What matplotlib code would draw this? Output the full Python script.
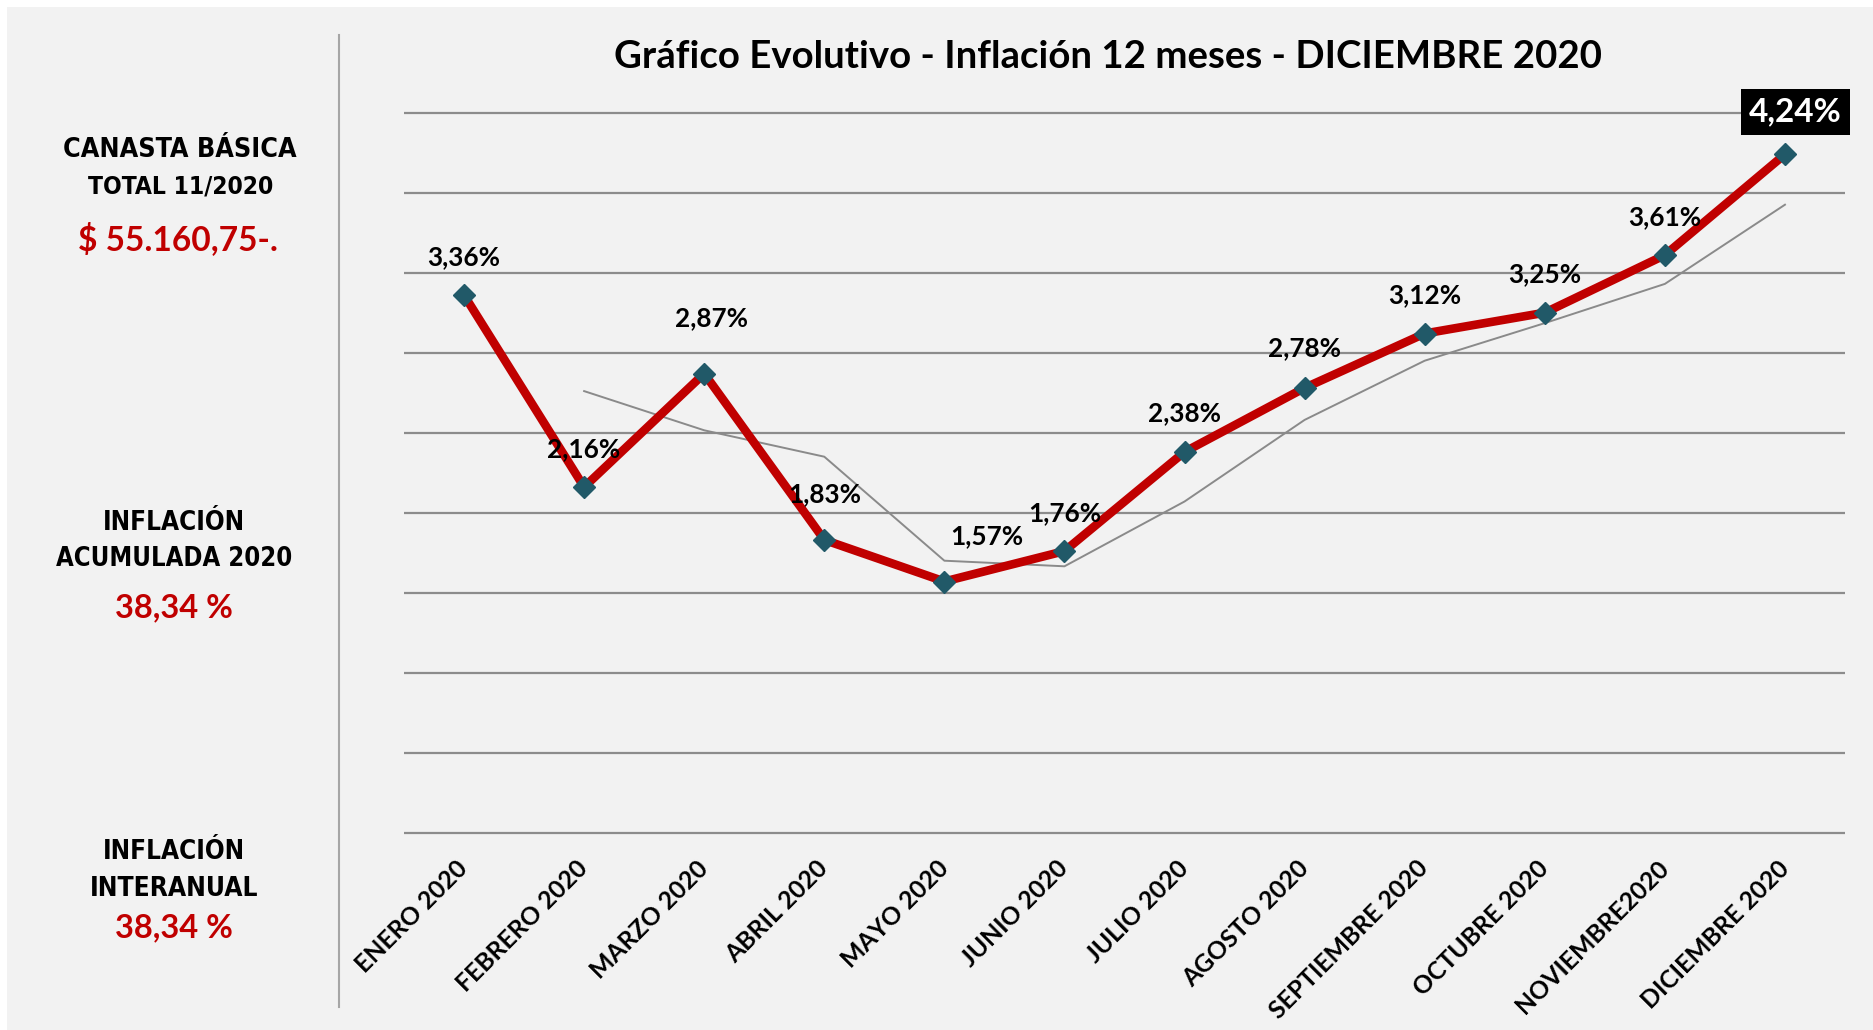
import numpy as np
import matplotlib
matplotlib.use("Agg")
import matplotlib.pyplot as plt
from matplotlib import font_manager as fm
from matplotlib.patches import Rectangle
from matplotlib.lines import Line2D

# ---------------- data ----------------
meses = ["ENERO 2020", "FEBRERO 2020", "MARZO 2020", "ABRIL 2020", "MAYO 2020",
         "JUNIO 2020", "JULIO 2020", "AGOSTO 2020", "SEPTIEMBRE 2020",
         "OCTUBRE 2020", "NOVIEMBRE2020", "DICIEMBRE 2020"]
inflacion = [3.36, 2.16, 2.87, 1.83, 1.57, 1.76, 2.38, 2.78, 3.12, 3.25, 3.61, 4.24]
etiquetas = ["3,36%", "2,16%", "2,87%", "1,83%", "1,57%", "1,76%", "2,38%",
             "2,78%", "3,12%", "3,25%", "3,61%", "4,24%"]
# thin grey trend line (2-period moving average as drawn)
media_movil = [np.nan, 2.76, 2.515, 2.35, 1.70, 1.665, 2.07, 2.58, 2.95, 3.185, 3.43, 3.925]

titulo = "Gráfico Evolutivo - Inflación 12 meses - DICIEMBRE 2020"
panel_negro = ["CANASTA BÁSICA", "TOTAL 11/2020", "INFLACIÓN", "ACUMULADA 2020",
               "INFLACIÓN", "INTERANUAL"]
panel_rojo = ["$ 55.160,75-.", "38,34 %", "38,34 %"]

# ---------------- fonts ----------------
def has_font(name):
    try:
        fm.findfont(fm.FontProperties(family=name), fallback_to_default=False)
        return True
    except Exception:
        return False

CAL = "Lato" if has_font("Lato") else "DejaVu Sans"

def narrow_props():
    # prefer a narrow / condensed bold face for the left panel
    for f in fm.fontManager.ttflist:
        if f.name == "Liberation Sans Narrow" and f.weight in ("bold", 700):
            return fm.FontProperties(fname=f.fname)
    for f in fm.fontManager.ttflist:
        fn = f.fname.lower()
        if "condensed-bold" in fn and "oblique" not in fn and "dejavusans" in fn.replace("-", ""):
            return fm.FontProperties(fname=f.fname)
    for f in fm.fontManager.ttflist:
        fn = f.fname.lower()
        if ("condensed" in fn or "narrow" in fn) and "bold" in fn and "italic" not in fn \
                and "oblique" not in fn:
            return fm.FontProperties(fname=f.fname)
    return fm.FontProperties(family="Liberation Sans", weight="bold")

NARROW_FP = narrow_props()

W, H = 1874, 1030
fig = plt.figure(figsize=(W / 100, H / 100), dpi=100)
fig.patch.set_facecolor("white")
BG = "#F2F2F2"
fig.patches.append(Rectangle((7 / W, 0), 1 - 7 / W, 1 - 7 / H, transform=fig.transFigure,
                             facecolor=BG, edgecolor="none", zorder=-10))

def px(x, y):
    return x / W, 1 - y / H

renderer = fig.canvas.get_renderer()

def fit(t, width_px):
    bb = t.get_window_extent(renderer)
    t.set_fontsize(t.get_fontsize() * width_px / bb.width)
    return t

# ---------------- axes ----------------
ax = fig.add_axes([404 / W, 1 - 832.7 / H, (1845 - 404) / W, (832.7 - 112.7) / H])
ax.set_facecolor("none")
x = np.arange(len(meses))
ax.set_xlim(-0.5, len(meses) - 0.5)
ax.set_ylim(0, 4.5)
ax.set_yticks(np.arange(0, 4.51, 0.5))
ax.set_yticklabels([])
for s in ax.spines.values():
    s.set_visible(False)
ax.tick_params(axis="both", length=0)
ax.hlines(ax.get_yticks(), -0.5, len(meses) - 0.5, colors="#8C8C8C", linewidth=1.6,
          zorder=1, clip_on=False)

ax.plot(x, media_movil, color="#8A8A8A", linewidth=1.4, zorder=2)
ax.plot(x, inflacion, color="#C00000", linewidth=6.2, zorder=3, solid_joinstyle="round")
ax.plot(x, inflacion, linestyle="none", marker="D", markersize=11,
        markerfacecolor="#215968", markeredgecolor="#215968", zorder=4)

# x tick labels
ax.set_xticks(x)
tmp = fig.text(0, 0, meses[0], fontfamily=CAL, fontweight="bold", fontsize=14)
fit(tmp, 148)
tick_fs = tmp.get_fontsize()
tmp.remove()
ax.set_xticklabels(meses, fontfamily=CAL, fontweight="bold", fontsize=tick_fs,
                   rotation=45, ha="right", va="center", rotation_mode="anchor")
ax.tick_params(axis="x", pad=23)

# data labels (offsets in px: dx, dy of baseline above marker)
desplaz = [(0, 30), (0, 30), (7, 47), (0, 38), (42, 37), (0, 30), (0, 31),
           (0, 32), (0, 30), (0, 31), (0, 30)]
tmp = fig.text(0, 0, etiquetas[0], fontfamily=CAL, fontweight="bold", fontsize=16)
fit(tmp, 73)
lab_fs = tmp.get_fontsize()
tmp.remove()
for i in range(len(meses) - 1):
    dx, dy = desplaz[i]
    ax.annotate(etiquetas[i], (x[i], inflacion[i]), xytext=(dx * 0.72, dy * 0.72),
                textcoords="offset points", ha="center", va="baseline",
                fontfamily=CAL, fontweight="bold", fontsize=lab_fs, color="black",
                zorder=6)

# last label, white on black box
tmp = fig.text(0, 0, etiquetas[-1], fontfamily=CAL, fontweight="bold", fontsize=20)
fit(tmp, 93)
last_fs = tmp.get_fontsize()
tmp.remove()
ax.annotate(etiquetas[-1], (x[-1], inflacion[-1]), xytext=(10.5 * 0.72, 42 * 0.72),
            textcoords="offset points", ha="center", va="center",
            fontfamily=CAL, fontweight="bold", fontsize=last_fs, color="white",
            zorder=7,
            bbox=dict(boxstyle="square,pad=0.25", facecolor="black", edgecolor="none"))

# ---------------- title ----------------
t = fig.text(*px(1108, 68), titulo, ha="center", va="baseline", fontfamily=CAL,
             fontweight="bold", fontsize=26, color="black")
fit(t, 986)

# ---------------- left panel ----------------
fig.lines.append(Line2D([339.5 / W, 339.5 / W], [1 - 35 / H, 1 - 1007 / H],
                        transform=fig.transFigure, color="#A6A6A6", linewidth=1.5))

negros = [(panel_negro[0], 180, 156.7, 233), (panel_negro[1], 180.5, 193, 185),
          (panel_negro[2], 174, 530, 142), (panel_negro[3], 174, 565.7, 235),
          (panel_negro[4], 174, 858.6, 142), (panel_negro[5], 174, 896, 168)]
for s, cx, by, w in negros:
    tt = fig.text(*px(cx, by), s, ha="center", va="baseline", fontproperties=NARROW_FP,
                  fontsize=22, color="black")
    fit(tt, w)

rojos = [(panel_rojo[0], 178, 250, 200), (panel_rojo[1], 174, 617.7, 118),
         (panel_rojo[2], 174, 937.5, 118)]
for s, cx, by, w in rojos:
    tt = fig.text(*px(cx, by), s, ha="center", va="baseline", fontfamily=CAL,
                  fontweight="bold", fontsize=24, color="#C00000")
    fit(tt, w)

fig.savefig("out.png", dpi=100, facecolor=fig.get_facecolor())
